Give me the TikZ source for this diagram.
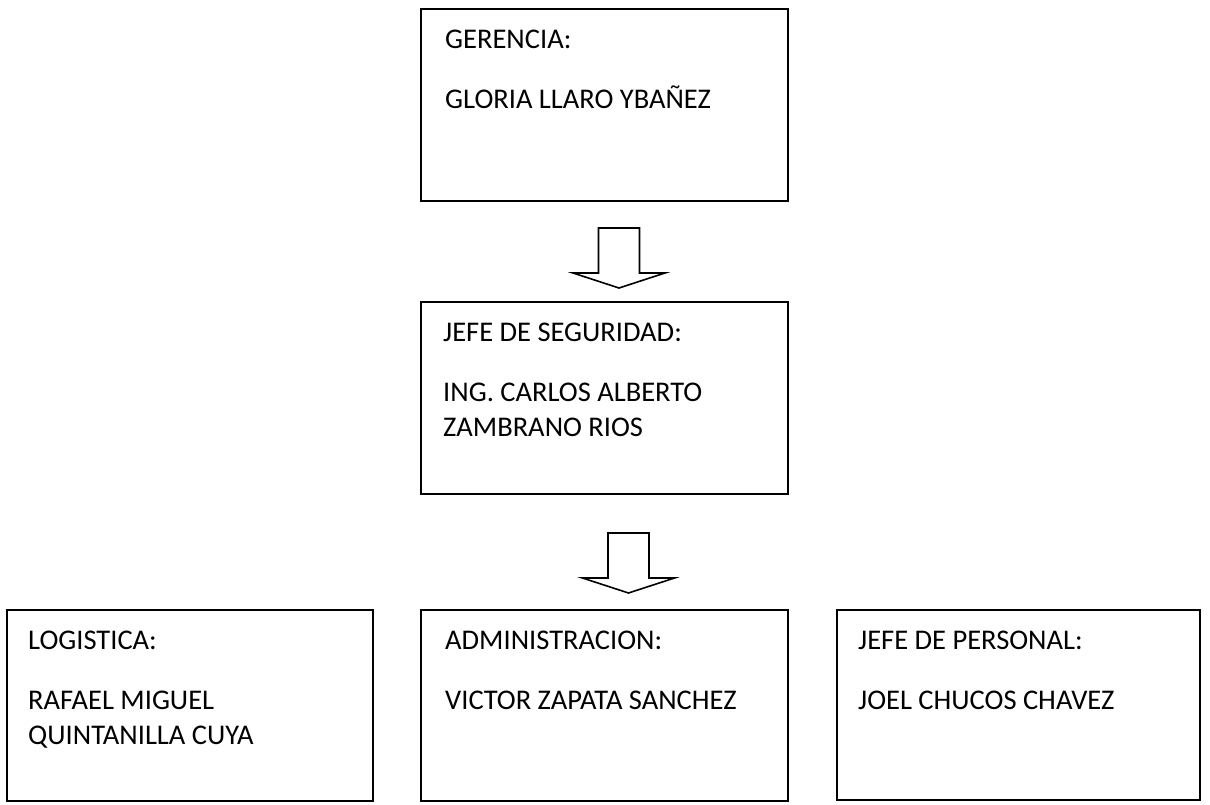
\documentclass[tikz,border=0pt]{standalone}
\usepackage{fontspec}
\setmainfont{Carlito}
\usetikzlibrary{positioning,calc}
\tikzset{
caja/.style={draw=black,line width=1.7pt,inner sep=0pt,outer sep=0pt,anchor=north west,
minimum width=367pt,minimum height=192pt},
rotulo/.style={anchor=north west,align=left,inner sep=0pt,font=\fontsize{28.5}{35}\selectfont},
flecha/.pic={
\draw[line width=1.6pt,line join=miter,fill=white]
(-20.5,0) -- (20.5,0) -- (20.5,-45) -- (46,-45) -- (0,-60) -- (-46,-45) -- (-20.5,-45) -- cycle;
}
}

\begin{document}
\begin{tikzpicture}[x=1pt,y=1pt]
\useasboundingbox (0,0) rectangle (1210,-805);
% cajas
\node[caja] (ger) at (421,-9) {};
\node[caja] (seg) at (421,-302) {};
\node[caja,minimum width=366pt,minimum height=191pt] (log) at (7,-610) {};
\node[caja,minimum height=191pt] (adm) at (421,-610) {};
\node[caja,minimum width=363pt,minimum height=190pt] (per) at (837,-610) {};
% textos
\node[rotulo] (gerT) at ($(ger.north west)+(24,-20.5)$) {GERENCIA:\\[25pt]GLORIA LLARO YBAÑEZ};
\node[rotulo] (segT) at ($(seg.north west)+(22,-20.5)$) {JEFE DE SEGURIDAD:\\[25pt]ING. CARLOS ALBERTO\\ZAMBRANO RIOS};
\node[rotulo] (logT) at ($(log.north west)+(21,-20.5)$) {LOGISTICA:\\[25pt]RAFAEL MIGUEL\\QUINTANILLA CUYA};
\node[rotulo] (admT) at ($(adm.north west)+(24,-20.5)$) {ADMINISTRACION:\\[25pt]VICTOR ZAPATA SANCHEZ};
\node[rotulo] (perT) at ($(per.north west)+(21,-20.5)$) {JEFE DE PERSONAL:\\[25pt]JOEL CHUCOS CHAVEZ};
% flechas
\coordinate (f1) at ($(ger.south)+(14.5,-27)$);
\pic at (f1) {flecha};
\coordinate (f2) at ($(seg.south)+(24,-39)$);
\pic at (f2) {flecha};
\end{tikzpicture}
\end{document}
